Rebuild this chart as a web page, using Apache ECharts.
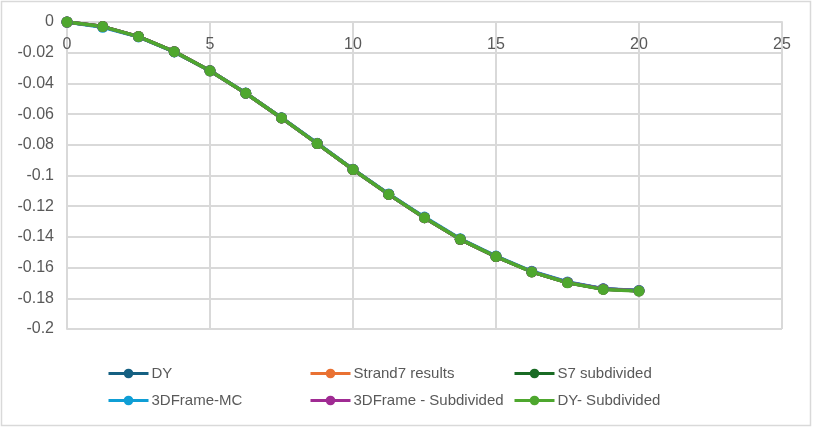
<!DOCTYPE html>
<html>
<head>
<meta charset="utf-8">
<title>Deflection</title>
<script src="https://cdn.jsdelivr.net/npm/echarts@6/dist/echarts.min.js"></script>
<style>
  html, body { margin: 0; padding: 0; background: #fff; }
  #chart { width: 813px; height: 427px; }
</style>
</head>
<body>
<div id="chart"></div>
<script>
// positions along the member
const xPos = [0, 1.25, 2.5, 3.75, 5, 6.25, 7.5, 8.75, 10, 11.25, 12.5, 13.75, 15, 16.25, 17.5, 18.75, 20]

// deflection values
const dy = [0, -0.003, -0.0095, -0.0193, -0.0318, -0.0464, -0.0625, -0.0792, -0.0961, -0.1123, -0.1275, -0.1416, -0.1528, -0.1627, -0.1697, -0.174, -0.1751]
const strand7 = [0, -0.003, -0.0095, -0.0193, -0.0318, -0.0464, -0.0625, -0.0792, -0.0961, -0.1123, -0.1275, -0.1416, -0.1528, -0.1627, -0.1697, -0.174, -0.1751]
const s7Subdivided = [0, -0.003, -0.0095, -0.0193, -0.0318, -0.0464, -0.0625, -0.0792, -0.0961, -0.1123, -0.1275, -0.1416, -0.1528, -0.1627, -0.1697, -0.174, -0.1751]
const frameMC = [0, -0.0035, -0.0097, -0.0195, -0.0318, -0.0463, -0.0623, -0.079, -0.0959, -0.112, -0.1271, -0.1412, -0.1525, -0.1624, -0.1694, -0.1737, -0.1749]
const frameSubdivided = [0, -0.003, -0.0095, -0.0193, -0.0318, -0.0464, -0.0625, -0.0792, -0.0961, -0.1123, -0.1275, -0.1416, -0.1528, -0.1627, -0.1697, -0.174, -0.1751]
const dySubdivided = [0, -0.003, -0.0095, -0.0193, -0.0318, -0.0464, -0.0625, -0.0792, -0.0961, -0.1123, -0.1275, -0.1416, -0.1528, -0.1628, -0.1699, -0.1742, -0.1753]

const seriesNames = ['DY', 'Strand7 results', 'S7 subdivided', '3DFrame-MC', '3DFrame - Subdivided', 'DY- Subdivided']
const seriesData = [dy, strand7, s7Subdivided, frameMC, frameSubdivided, dySubdivided]
const colors = ['#156082', '#E97132', '#196B24', '#0F9ED5', '#A02B93', '#4EA72E']

const textColor = '#595959'
const gridColor = '#d9d9d9'

const chart = echarts.init(document.getElementById('chart'))

const legendLeft = [107, 309, 513]
const legendTop = [366, 393]

const option = {
  animation: false,
  color: colors,
  grid: { left: 67, right: 31, top: 22, bottom: 98 },
  graphic: [{
    type: 'rect',
    shape: { x: 1.5, y: 1.5, width: 809, height: 424 },
    style: { fill: 'none', stroke: gridColor, lineWidth: 1.5 },
    silent: true
  }],
  legend: seriesNames.map((name, i) => ({
    data: [name],
    left: legendLeft[i % 3],
    top: legendTop[Math.floor(i / 3)],
    itemWidth: 40,
    itemHeight: 12,
    itemGap: 0,
    padding: 0,
    lineStyle: { width: 3 },
    textStyle: { color: textColor, fontSize: 15, fontFamily: 'Liberation Sans', padding: [0, 0, 0, -2] }
  })),
  xAxis: {
    type: 'value',
    position: 'top',
    min: 0,
    max: 25,
    interval: 5,
    axisLine: { onZero: false, lineStyle: { color: gridColor, width: 2 } },
    axisTick: { show: false },
    axisLabel: { inside: true, color: textColor, fontSize: 16, fontFamily: 'Liberation Sans', margin: 15 },
    splitLine: { lineStyle: { color: gridColor, width: 2 } }
  },
  yAxis: {
    type: 'value',
    min: -0.2,
    max: 0,
    interval: 0.02,
    axisLine: { show: true, lineStyle: { color: gridColor, width: 2 } },
    axisTick: { show: false },
    axisLabel: { color: textColor, fontSize: 16, fontFamily: 'Liberation Sans', margin: 13 },
    splitLine: { lineStyle: { color: gridColor, width: 2 } }
  },
  series: seriesNames.map((name, i) => ({
    name: name,
    type: 'line',
    data: xPos.map((x, k) => [x, seriesData[i][k]]),
    symbol: 'circle',
    symbolSize: 11,
    lineStyle: { width: 3.5 },
    itemStyle: { color: colors[i] }
  }))
}

chart.setOption(option)
</script>
</body>
</html>
